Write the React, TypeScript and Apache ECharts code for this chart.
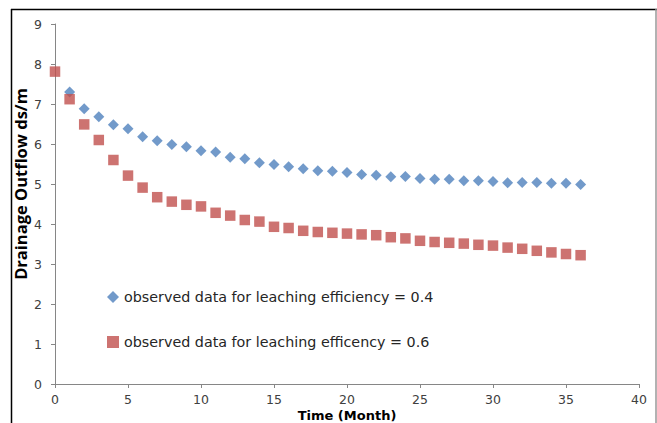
import React, { useEffect, useRef } from "react";
import * as echarts from "echarts";

const monthsA = [1,2,3,4,5,6,7,8,9,10,11,12,13,14,15,16,17,18,19,20,21,22,23,24,25,26,27,28,29,30,31,32,33,34,35,36];
const valuesA = [7.3,6.88,6.68,6.48,6.38,6.18,6.08,5.99,5.93,5.83,5.8,5.67,5.63,5.53,5.49,5.43,5.38,5.33,5.32,5.29,5.24,5.22,5.18,5.19,5.14,5.12,5.12,5.08,5.08,5.06,5.03,5.04,5.04,5.02,5.02,4.99];
const monthsB = [0,1,2,3,4,5,6,7,8,9,10,11,12,13,14,15,16,17,18,19,20,21,22,23,24,25,26,27,28,29,30,31,32,33,34,35,36];
const valuesB = [7.81,7.12,6.49,6.1,5.6,5.21,4.91,4.67,4.56,4.48,4.44,4.28,4.21,4.1,4.06,3.93,3.9,3.83,3.8,3.78,3.76,3.74,3.72,3.67,3.64,3.58,3.55,3.53,3.51,3.48,3.46,3.41,3.38,3.33,3.29,3.25,3.22];
const nameA = "observed data for leaching efficiency = 0.4";
const nameB = "observed data for leaching efficency = 0.6";
const xTitle = "Time (Month)";
const yTitle = "Drainage Outflow ds/m";

export default function App() {
  const ref = useRef<HTMLDivElement>(null);
  useEffect(() => {
    const chart = echarts.init(ref.current!, null, { renderer: "svg" });
    const axisColor = "#868686";
    const labelStyle = { color: "#404040", fontSize: 12.5, lineHeight: 12, fontFamily: "DejaVu Sans" };
    chart.setOption({
      animation: false,
      grid: { left: 55, right: 18, top: 24, bottom: 39 },
      legend: {
        orient: "vertical",
        left: 102,
        top: 283,
        itemGap: 27,
        itemWidth: 12,
        itemHeight: 12,
        textStyle: { fontSize: 14.3, lineHeight: 18, color: "#262626", fontFamily: "DejaVu Sans" },
        data: [
          { name: nameA, icon: "diamond", itemStyle: { color: "#4F81BD" } },
          { name: nameB, icon: "rect", itemStyle: { color: "#C0504D" } },
        ],
      },
      xAxis: {
        type: "value",
        min: 0,
        max: 40,
        interval: 5,
        axisLine: { show: true, lineStyle: { color: axisColor } },
        axisTick: { show: true, length: 4, lineStyle: { color: axisColor } },
        axisLabel: { ...labelStyle, margin: 9 },
        splitLine: { show: false },
      },
      yAxis: {
        type: "value",
        min: 0,
        max: 9,
        interval: 1,
        axisLine: { show: true, lineStyle: { color: axisColor } },
        axisTick: { show: true, length: 4, lineStyle: { color: axisColor } },
        axisLabel: { ...labelStyle, margin: 13 },
        splitLine: { show: false },
      },
      graphic: [
        { type: "line", shape: { x1: 11, y1: 9.5, x2: 657, y2: 9.5 }, style: { stroke: "#000", lineWidth: 1.5 } },
        { type: "line", shape: { x1: 11.5, y1: 9, x2: 11.5, y2: 423 }, style: { stroke: "#000", lineWidth: 1.5 } },
        { type: "line", shape: { x1: 656, y1: 9, x2: 656, y2: 423 }, style: { stroke: "#999", lineWidth: 1.5 } },
        {
          type: "text",
          x: 347,
          y: 415,
          style: {
            text: xTitle,
            fontWeight: "bold",
            fontSize: 13,
            lineHeight: 14,
            fill: "#000",
            fontFamily: "DejaVu Sans",
            align: "center",
            verticalAlign: "middle",
          },
        },
        {
          type: "text",
          x: 20,
          y: 184,
          rotation: Math.PI / 2,
          style: {
            text: yTitle,
            fontWeight: "bold",
            fontSize: 16.5,
            lineHeight: 14,
            fill: "#000",
            fontFamily: "Open Sans",
            align: "center",
            verticalAlign: "middle",
          },
        },
      ],
      series: [
        {
          name: nameA,
          type: "scatter",
          symbol: "diamond",
          symbolSize: 11,
          itemStyle: { color: "#4F81BD" },
          data: monthsA.map((m, i) => [m, valuesA[i]]),
        },
        {
          name: nameB,
          type: "scatter",
          symbol: "rect",
          symbolSize: 10.5,
          itemStyle: { color: "#C0504D" },
          data: monthsB.map((m, i) => [m, valuesB[i]]),
        },
      ],
    });
    return () => chart.dispose();
  }, []);
  return (
    <div
      ref={ref}
      style={{ position: "fixed", left: 0, top: 0, width: 657, height: 423, background: "#fff" }}
    />
  );
}
